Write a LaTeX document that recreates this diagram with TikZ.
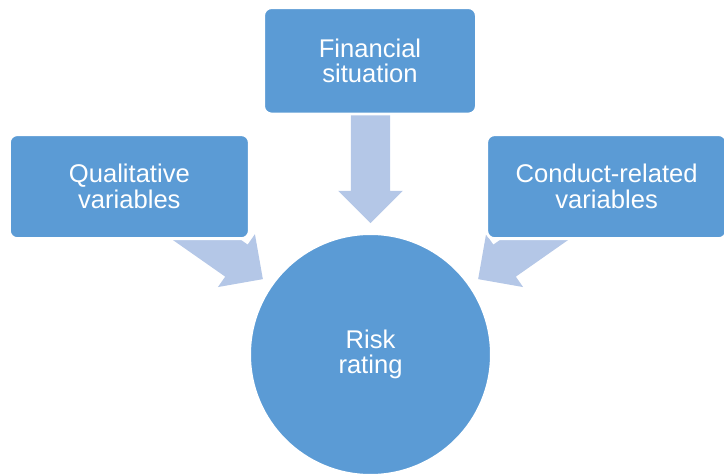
\documentclass[tikz,border=0pt]{standalone}
\usepackage{fontspec}
\setmainfont{Liberation Sans}
\usetikzlibrary{shapes.arrows,calc}
\definecolor{boxblue}{RGB}{91,155,213}
\definecolor{arrowblue}{RGB}{180,199,231}
\begin{document}
\begin{tikzpicture}[
    factor/.style={rectangle, rounded corners=0.2cm, fill=boxblue, draw=white, line width=2pt,
        text=white, align=center, inner sep=0pt, font=\fontsize{18.2}{18.3}\selectfont},
    pointer/.style={single arrow, fill=arrowblue, draw=none, inner sep=0pt,
        text height=0.965cm, text depth=0pt, minimum height=2.725cm,
        single arrow head extend=0.3175cm, anchor=tip}
]
    \useasboundingbox (0,0) rectangle (18.1,11.825);
    \node[factor, circle, minimum size=6.045cm] (risk) at (9.2625,2.9625) {Risk\\rating};
    \foreach \a in {145, 90, 35} {
        \node[pointer, rotate=\a-180] (in\a) at ($(risk.center)+(\a:3.275)$) {};
    }
    \node[factor, minimum width=5.32cm, minimum height=2.66cm] (fin) at (9.25,10.304) {Financial\\situation};
    \node[factor, minimum width=6cm, minimum height=2.6cm] (qual) at (3.234,7.159) {Qualitative\\variables};
    \node[factor, minimum width=6cm, minimum height=2.6cm] (cond) at (15.166,7.159) {Conduct-related\\variables};
\end{tikzpicture}
\end{document}
